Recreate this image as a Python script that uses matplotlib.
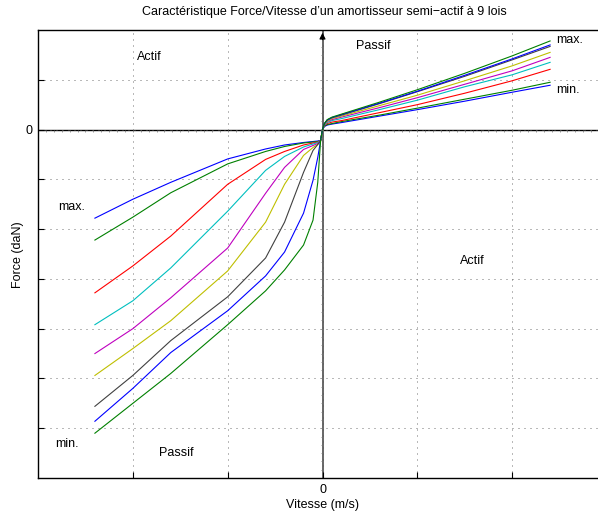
import numpy as np
import matplotlib
matplotlib.use("Agg")
import matplotlib.pyplot as plt

plt.rcParams['font.family'] = ['Liberation Sans', 'DejaVu Sans']

# vitesses (unites du graphe, une graduation = 1)
v_neg = [-2.4, -2.0, -1.6, -1.0, -0.6, -0.4, -0.2, -0.1, -0.05, -0.02, 0.0]
v_pos = [0.0, 0.02, 0.05, 0.1, 0.2, 0.6, 1.0, 1.5, 2.0, 2.4]

# efforts en detente (v < 0), loi 1 .. loi 9
f_neg = [
    [-1.78, -1.40, -1.06, -0.59, -0.39, -0.31, -0.26, -0.24, -0.23, -0.22, 0],
    [-2.22, -1.76, -1.27, -0.69, -0.44, -0.34, -0.27, -0.25, -0.24, -0.22, 0],
    [-3.28, -2.74, -2.14, -1.10, -0.60, -0.44, -0.31, -0.27, -0.25, -0.22, 0],
    [-3.92, -3.44, -2.78, -1.64, -0.82, -0.54, -0.35, -0.29, -0.26, -0.22, 0],
    [-4.50, -4.00, -3.38, -2.38, -1.28, -0.76, -0.40, -0.32, -0.28, -0.22, 0],
    [-4.94, -4.40, -3.84, -2.84, -1.86, -1.10, -0.52, -0.36, -0.30, -0.24, 0],
    [-5.56, -4.94, -4.24, -3.36, -2.58, -1.86, -0.86, -0.42, -0.30, -0.22, 0],
    [-5.86, -5.20, -4.48, -3.64, -2.94, -2.46, -1.68, -1.02, -0.56, -0.22, 0],
    [-6.10, -5.50, -4.90, -3.92, -3.24, -2.82, -2.32, -1.82, -1.06, -0.22, 0],
]

# efforts en compression (v > 0)
f_pos = [
    [0, 0.06, 0.09, 0.11, 0.14, 0.27, 0.40, 0.57, 0.75, 0.89],
    [0, 0.07, 0.10, 0.12, 0.16, 0.29, 0.43, 0.61, 0.79, 0.95],
    [0, 0.08, 0.12, 0.15, 0.18, 0.34, 0.50, 0.73, 0.98, 1.21],
    [0, 0.09, 0.14, 0.18, 0.22, 0.40, 0.59, 0.86, 1.10, 1.35],
    [0, 0.10, 0.16, 0.20, 0.25, 0.44, 0.64, 0.91, 1.18, 1.45],
    [0, 0.11, 0.17, 0.22, 0.27, 0.48, 0.69, 0.98, 1.28, 1.55],
    [0, 0.12, 0.19, 0.24, 0.29, 0.52, 0.76, 1.07, 1.40, 1.67],
    [0, 0.12, 0.19, 0.24, 0.30, 0.53, 0.77, 1.09, 1.42, 1.70],
    [0, 0.12, 0.20, 0.25, 0.31, 0.55, 0.80, 1.13, 1.48, 1.78],
]

colors = [(0, 0, 1), (0, 0.5, 0), (1, 0, 0), (0, 0.75, 0.75), (0.75, 0, 0.75),
          (0.75, 0.75, 0), (0.25, 0.25, 0.25), (0, 0, 1), (0, 0.5, 0)]

fig = plt.figure(figsize=(5.98, 5.15), dpi=100)
ax = fig.add_axes([38/598, 37/515, 569/598, 448/515])

for fn, fp, c in zip(f_neg, f_pos, colors):
    ax.plot(v_neg + v_pos[1:], fn + fp[1:], color=c, lw=0.8)

ax.set_xlim(-3, 3)
ax.set_ylim(-7, 2)
ax.set_xticks([-2, -1, 0, 1, 2])
ax.set_xticklabels(['', '', '0', '', ''])
ax.set_yticks([-6, -5, -4, -3, -2, -1, 0, 1])
ax.set_yticklabels(['', '', '', '', '', '', '0', ''])
ax.tick_params(direction='in', length=4, width=0.8, labelsize=9, pad=4)
ax.grid(True, color='0.35', lw=0.6, linestyle=(0, (1.2, 6)))
for s in ax.spines.values():
    s.set_linewidth(1.0)

# axes centraux
ax.axhline(0, color='k', lw=1.0, zorder=1.5)
ax.axvline(0, color='0.3', lw=1.2, zorder=1.5)
ax.plot(np.arange(-3, 3, 1/12), np.zeros(72), ls='none', marker=3,
        ms=1.5, mew=0.5, color='0.45')
ax.plot(np.zeros(54), np.arange(-7, 2, 1/6), ls='none', marker=0,
        ms=1.5, mew=0.5, color='0.45')
ax.annotate('', xy=(0, 2.0), xytext=(0, 1.75),
            arrowprops=dict(arrowstyle='-|>', color='k', lw=0.8,
                            mutation_scale=9), annotation_clip=False)

fs = 9
ax.text(-1.83, 1.45, 'Actif', fontsize=fs, ha='center', va='center')
ax.text(0.54, 1.68, 'Passif', fontsize=fs, ha='center', va='center')
ax.text(2.46, 1.80, 'max.', fontsize=fs, ha='left', va='center')
ax.text(2.46, 0.80, 'min.', fontsize=fs, ha='left', va='center')
ax.text(-2.79, -1.55, 'max.', fontsize=fs, ha='left', va='center')
ax.text(1.58, -2.65, 'Actif', fontsize=fs, ha='center', va='center')
ax.text(-2.82, -6.32, 'min.', fontsize=fs, ha='left', va='center')
ax.text(-1.54, -6.50, 'Passif', fontsize=fs, ha='center', va='center')

fig.text(324.5/598, 1 - 12/515,
         "Caractéristique Force/Vitesse d’un amortisseur semi\u2212actif à 9 lois",
         fontsize=fs, ha='center', va='center')
fig.text(322/598, 1 - 505/515, 'Vitesse (m/s)', fontsize=fs,
         ha='center', va='center')
fig.text(18/598, 1 - 255/515, 'Force (daN)', fontsize=fs, rotation=90,
         ha='center', va='center')

fig.savefig('out.png', dpi=100)
